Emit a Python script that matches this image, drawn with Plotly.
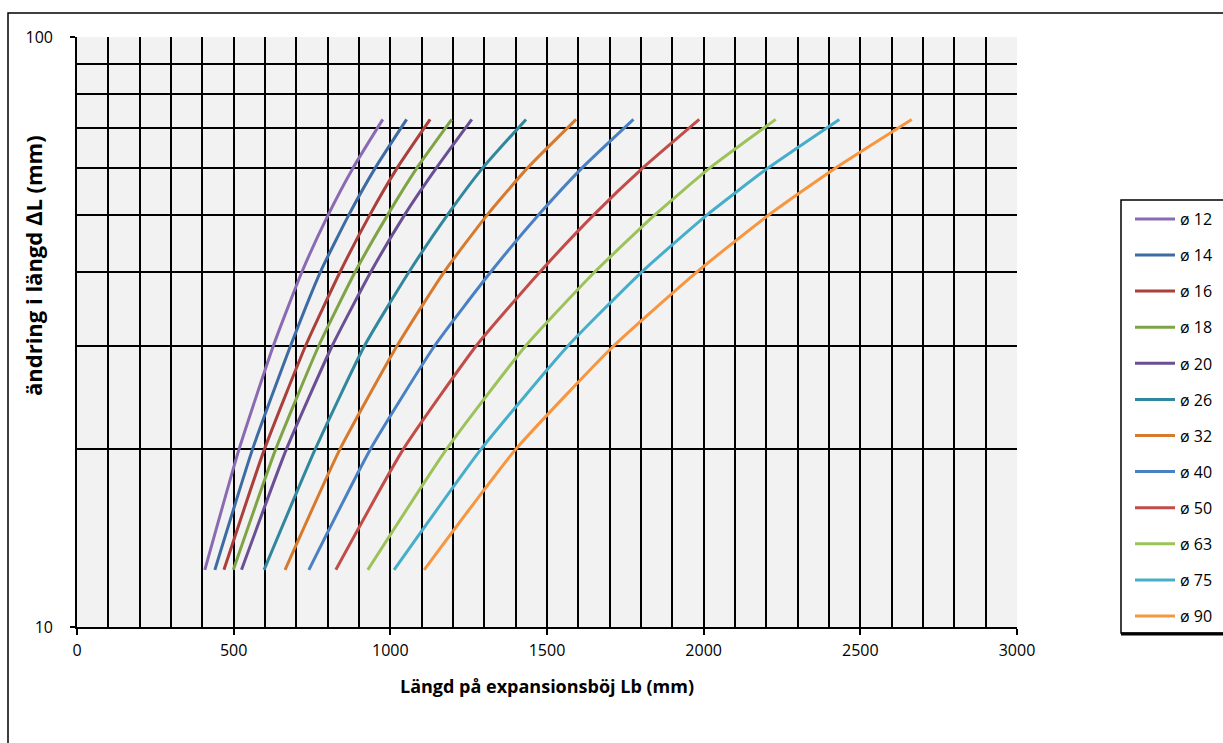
import plotly.graph_objects as go

# Length change ΔL (mm) at which each curve is sampled
delta_l = [12.5, 20, 30, 40, 50, 60, 72.5]

# Expansion bend length Lb (mm) for each pipe diameter, at the ΔL values above
lb_12 = [408, 517, 627, 718, 802, 881, 976]
lb_14 = [440, 560, 682, 777, 868, 952, 1052]
lb_16 = [469, 598, 730, 840, 935, 1022, 1127]
lb_18 = [499, 634, 772, 888, 992, 1085, 1196]
lb_20 = [525, 668, 815, 938, 1046, 1147, 1260]
lb_26 = [597, 760, 918, 1060, 1183, 1295, 1433]
lb_32 = [664, 839, 1022, 1172, 1310, 1438, 1593]
lb_40 = [740, 936, 1142, 1321, 1474, 1612, 1776]
lb_50 = [826, 1041, 1275, 1478, 1650, 1806, 1986]
lb_63 = [928, 1179, 1433, 1653, 1845, 2020, 2230]
lb_75 = [1012, 1289, 1568, 1803, 2012, 2206, 2433]
lb_90 = [1108, 1400, 1714, 1979, 2209, 2421, 2664]

series_names = ["ø 12", "ø 14", "ø 16", "ø 18", "ø 20", "ø 26",
                "ø 32", "ø 40", "ø 50", "ø 63", "ø 75", "ø 90"]
series_values = [lb_12, lb_14, lb_16, lb_18, lb_20, lb_26,
                 lb_32, lb_40, lb_50, lb_63, lb_75, lb_90]
series_colors = ["#8a6bb3", "#3d6ba3", "#ab3f3b", "#7fa445", "#6b4f94", "#31879e",
                 "#d77a2d", "#4a80c4", "#c24c48", "#9cc25a", "#46aecb", "#f8953f"]

x_ticks = [0, 500, 1000, 1500, 2000, 2500, 3000]
y_ticks = [10, 100]
y_minor = [20, 30, 40, 50, 60, 70, 80, 90]

W, H = 1223, 743
L, R, T, B = 77, 206, 37, 116
PW, PH = W - L - R, H - T - B


def px_x(p):
    return (p - L) / PW


def px_y(p):
    return (H - B - p) / PH


fig = go.Figure()
for name, vals, col in zip(series_names, series_values, series_colors):
    fig.add_trace(go.Scatter(
        x=vals, y=delta_l, name=name, mode="lines",
        line=dict(color=col, width=3, shape="spline", smoothing=0.5),
        legendgroup=name,
    ))

font_main = "Open Sans, Noto Sans, sans-serif"

fig.update_layout(
    width=W, height=H,
    margin=dict(l=L, r=R, t=T, b=B, pad=0, autoexpand=False),
    paper_bgcolor="white",
    plot_bgcolor="#f2f2f2",
    font=dict(family=font_main, color="black", size=16),
    showlegend=True,
    legend=dict(
        x=px_x(1130), y=px_y(202), xanchor="left", yanchor="top",
        bgcolor="rgba(0,0,0,0)", borderwidth=0,
        font=dict(size=16, family=font_main, color="black"),
        tracegroupgap=12.3, itemwidth=40,
    ),
    xaxis=dict(
        range=[0, 3000], tickvals=x_ticks, ticks="outside", ticklen=6,
        tickwidth=1.5, tickcolor="black",
        showgrid=True, gridcolor="black", gridwidth=1.7,
        minor=dict(dtick=100, showgrid=True, gridcolor="black", gridwidth=1.7),
        showline=True, linecolor="black", linewidth=1.7,
        zeroline=False, tickfont=dict(size=16),
        ticklabelstandoff=2,
    ),
    yaxis=dict(
        type="log", range=[1, 2], tickvals=y_ticks, ticktext=["10", "100"],
        ticks="outside", ticklen=5, tickwidth=1.5, tickcolor="black",
        showgrid=True, gridcolor="black", gridwidth=1.7,
        minor=dict(tickvals=y_minor, showgrid=True, gridcolor="black",
                   gridwidth=1.7, ticks=""),
        showline=True, linecolor="black", linewidth=1.7,
        zeroline=False, tickfont=dict(size=16),
        ticklabelstandoff=14,
    ),
    shapes=[
        # outer frame
        dict(type="rect", xref="paper", yref="paper",
             x0=px_x(8), x1=px_x(1260), y0=px_y(760), y1=px_y(13),
             line=dict(color="black", width=1.5), fillcolor="rgba(0,0,0,0)",
             layer="below"),
        # legend box
        dict(type="rect", xref="paper", yref="paper",
             x0=px_x(1121), x1=px_x(1260), y0=px_y(633), y1=px_y(200),
             line=dict(color="black", width=1.5), fillcolor="white",
             layer="below"),
        dict(type="line", xref="paper", yref="paper",
             x0=px_x(1121), x1=px_x(1260), y0=px_y(634), y1=px_y(634),
             line=dict(color="black", width=3)),
    ],
    annotations=[
        dict(text="<b>Längd på expansionsböj Lb (mm)</b>", xref="paper", yref="paper",
             x=0.5, y=px_y(686), xanchor="center", yanchor="middle",
             showarrow=False, font=dict(size=18, family=font_main)),
        dict(text="<b>ändring i längd ∆L (mm)</b>", xref="paper", yref="paper",
             x=px_x(33), y=px_y(266), xanchor="center", yanchor="middle",
             textangle=-90, showarrow=False, font=dict(size=22, family=font_main)),
    ],
)

fig.write_html("out.html")
